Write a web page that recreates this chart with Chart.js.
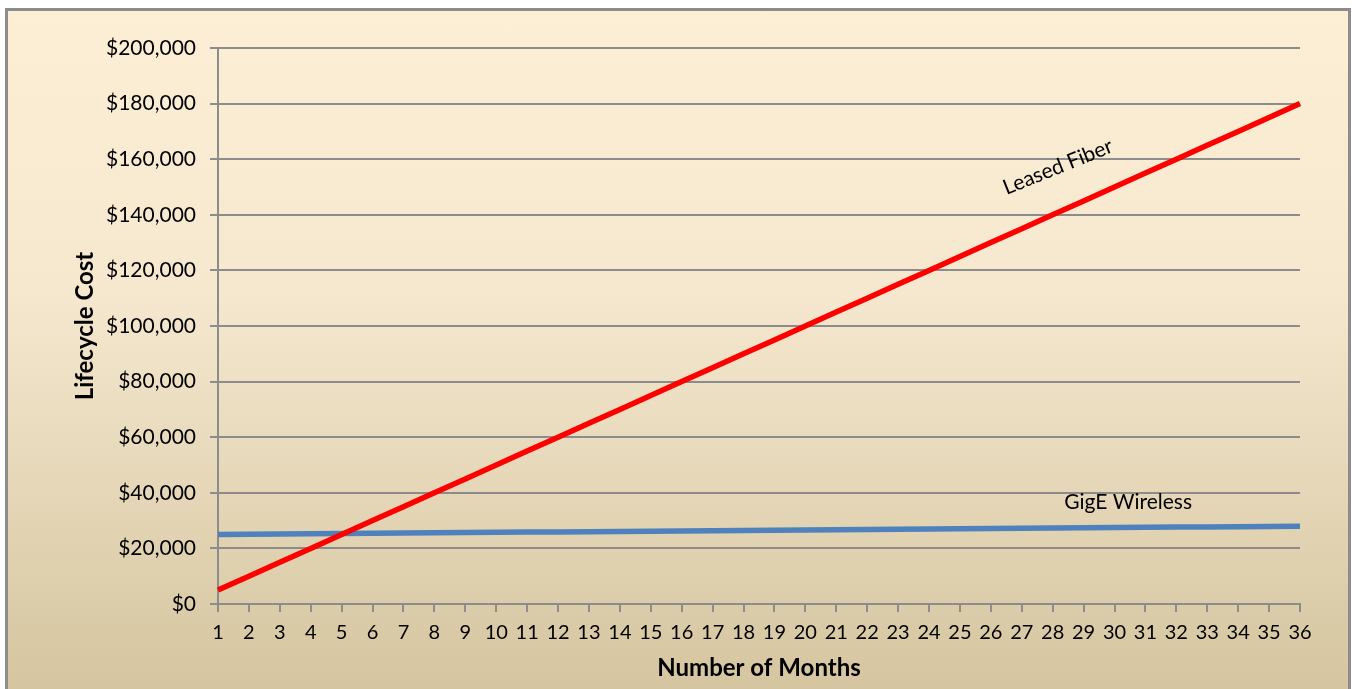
<!DOCTYPE html>
<html>
<head>
<meta charset="utf-8">
<script src="https://cdn.jsdelivr.net/npm/chart.js@4.4.1/dist/chart.umd.min.js"></script>
<style>
    body { margin: 0; background: #fff; overflow: hidden; }
    #bg {
        position: absolute; left: 5px; top: 8px; width: 1340px; height: 700px;
        border: 3px solid #8c8c8c;
        background: linear-gradient(to bottom, #fdefd6 0%, #f5e8cf 40%, #d3c39d 100%);
    }
    #myChart { position: absolute; left: 0; top: 0; }
</style>
</head>
<body>
<div id="bg"></div>
<canvas id="myChart" width="1352" height="689"></canvas>
<script>
var meses = ['1', '2', '3', '4', '5', '6', '7', '8', '9', '10', '11', '12', '13', '14', '15', '16', '17', '18',
    '19', '20', '21', '22', '23', '24', '25', '26', '27', '28', '29', '30', '31', '32', '33', '34', '35', '36'];

var fibra = [5000, 10000, 15000, 20000, 25000, 30000, 35000, 40000, 45000, 50000, 55000, 60000,
    65000, 70000, 75000, 80000, 85000, 90000, 95000, 100000, 105000, 110000, 115000, 120000,
    125000, 130000, 135000, 140000, 145000, 150000, 155000, 160000, 165000, 170000, 175000, 180000];

var wireless = [25000, 25090, 25170, 25260, 25340, 25430, 25510, 25600, 25690, 25770, 25860, 25940,
    26030, 26110, 26200, 26290, 26370, 26460, 26540, 26630, 26710, 26800, 26890, 26970,
    27060, 27140, 27230, 27310, 27400, 27490, 27570, 27660, 27740, 27830, 27910, 28000];

// texto das series: [texto, indice x, valor y, rotacao]
var rotulos = [
    ['Leased Fiber', 27.17, 157200, -22],
    ['GigE Wireless', 29.44, 36700, 0]
];

var cinza = '#8c8c8c';

var textoSeries = {
    id: 'textoSeries',
    afterDatasetsDraw: function (chart) {
        var ctx = chart.ctx;
        var x = chart.scales.x, y = chart.scales.y;
        rotulos.forEach(function (r) {
            ctx.save();
            ctx.translate(x.getPixelForValue(r[1]), y.getPixelForValue(r[2]));
            ctx.rotate(r[3] * Math.PI / 180);
            ctx.font = '21px Lato';
            ctx.fillStyle = '#000';
            ctx.textAlign = 'center';
            ctx.textBaseline = 'middle';
            ctx.fillText(r[0], 0, 0);
            ctx.restore();
        });
    }
};

var ctx = document.getElementById('myChart').getContext('2d');

var chart = new Chart(ctx, {
    type: 'line',
    data: {
        labels: meses,
        datasets: [{
            label: 'Leased Fiber',
            borderColor: '#ff0000',
            borderWidth: 5.5,
            pointRadius: 0,
            data: fibra
        }, {
            label: 'GigE Wireless',
            borderColor: '#4f81bd',
            borderWidth: 5.5,
            pointRadius: 0,
            data: wireless
        }]
    },
    options: {
        responsive: false,
        animation: false,
        layout: { padding: { left: 69, right: 52, top: 48, bottom: 0 } },
        plugins: {
            legend: { display: false },
            tooltip: { enabled: false }
        },
        scales: {
            x: {
                offset: false,
                afterFit: function (s) { s.height = 85; },
                grid: { drawOnChartArea: false, color: cinza, lineWidth: 2, tickLength: 8, offset: false },
                border: { color: cinza, width: 2 },
                ticks: { color: '#000', font: { family: 'Lato', size: 20 }, padding: 9, maxRotation: 0, autoSkip: false },
                title: {
                    display: true, text: 'Number of Months', color: '#000',
                    font: { family: 'Lato', size: 24, weight: 'bold' }, padding: { top: 0, bottom: 6 }
                }
            },
            y: {
                min: 0,
                max: 200000,
                afterFit: function (s) { s.width = 149; },
                grid: { color: cinza, lineWidth: 2, tickLength: 8 },
                border: { color: cinza, width: 2 },
                ticks: {
                    stepSize: 20000, color: '#000', padding: 14,
                    font: { family: 'Lato', size: 21 },
                    callback: function (v) { return '$' + v.toLocaleString('en-US'); }
                },
                title: {
                    display: true, text: 'Lifecycle Cost', color: '#000',
                    font: { family: 'Lato', size: 24, weight: 'bold' }, padding: { top: 2, bottom: 0 }
                }
            }
        }
    },
    plugins: [textoSeries]
});
</script>
</body>
</html>
